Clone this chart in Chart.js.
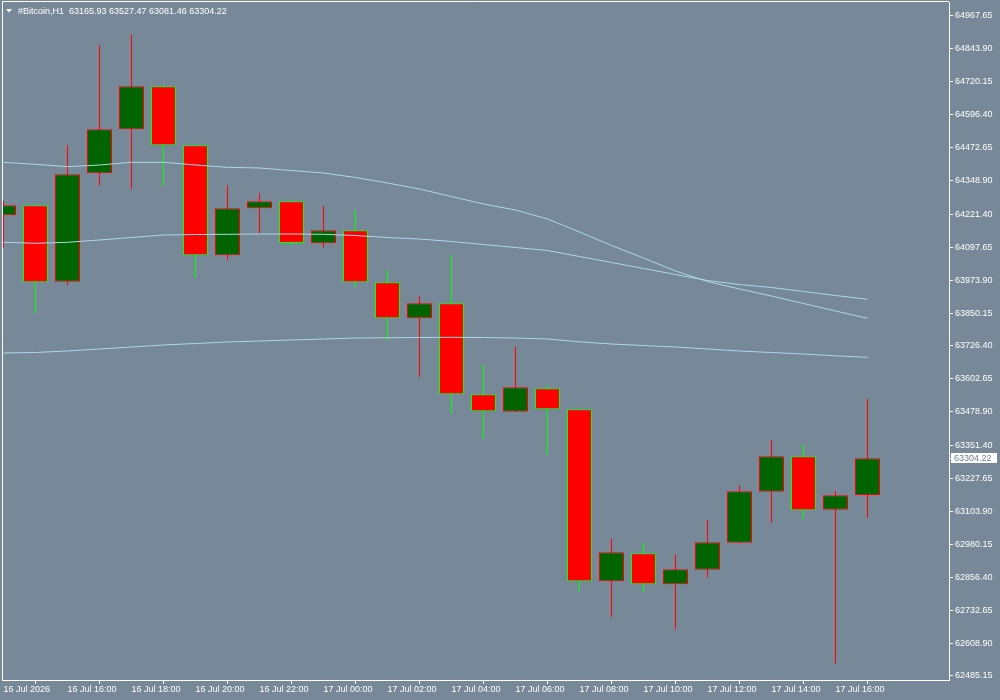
<!DOCTYPE html>
<html>
<head>
<meta charset="utf-8">
<title>#Bitcoin,H1</title>
<script src="https://cdn.jsdelivr.net/npm/chart.js@4.4.1/dist/chart.umd.min.js"></script>
<style>
  html, body { margin: 0; padding: 0; background: #778899; }
  canvas { display: block; }
</style>
</head>
<body>
<canvas id="chart" width="1000" height="700"></canvas>
<script>
const symbol = "#Bitcoin,H1";

// hourly candles, 16 Jul 14:00 .. 17 Jul 17:00
const opens = [64218.0, 64255.6, 63968.0, 64376.0, 64541.5, 64703.2, 64481.3, 64067.5, 64244.3, 64270.7, 64112.7, 64161.6, 63966.0, 63830.6,
  63887.0, 63544.7, 63479.3, 63567.3, 63488.3, 62841.3, 62946.6, 62830.0, 62885.0, 62986.5, 63178.4, 63311.5, 63110.6, 63165.93];
const highs = [64271.8, 64258.0, 64482.4, 64858.6, 64896.2, 64711.9, 64483.0, 64332.0, 64301.9, 64275.6, 64253.0, 64237.9, 64012.3, 63914.5,
  64067.5, 63657.5, 63722.6, 63578.6, 63490.0, 63000.4, 62985.4, 62940.3, 63071.9, 63202.4, 63372.8, 63357.8, 63181.0, 63527.47];
const lows = [64096.1, 63849.4, 63955.8, 64329.3, 64318.1, 64329.3, 63984.0, 64051.0, 64148.8, 64105.2, 64096.1, 63947.2, 63746.3, 63610.9,
  63472.5, 63377.7, 63478.0, 63316.4, 62803.0, 62708.2, 62800.0, 62663.0, 62854.9, 62985.0, 63061.8, 63074.5, 62531.4, 63081.46];
const closes = [64255.6, 63966.0, 64372.2, 64541.5, 64703.2, 64481.3, 64067.5, 64244.3, 64270.7, 64113.8, 64161.6, 63966.0, 63830.6, 63887.0,
  63544.7, 63480.8, 63571.0, 63488.3, 62841.3, 62950.4, 62830.0, 62886.5, 62988.0, 63179.9, 63311.5, 63108.4, 63164.8, 63304.22];

// moving averages
const maFast = [64417.4, 64409.8, 64400.8, 64407.2, 64417.4, 64417.4, 64407.2, 64398.5, 64395.9, 64386.5, 64377.1, 64360.2, 64339.5, 64316.9,
  64288.7, 64260.5, 64237.9, 64204.1, 64155.2, 64104.4, 64057.4, 64008.5, 63969.0, 63940.8, 63914.5, 63886.3, 63858.0, 63830.6];
const maMid = [64116.4, 64112.7, 64116.4, 64125.1, 64134.5, 64143.9, 64145.8, 64146.5, 64147.7, 64147.7, 64146.5, 64142.0, 64134.5, 64128.9,
  64119.5, 64108.2, 64096.9, 64085.6, 64063.0, 64040.5, 64017.9, 63995.3, 63972.8, 63957.7, 63946.4, 63931.4, 63916.3, 63902.1];
const maSlow = [63700.1, 63701.9, 63707.6, 63715.1, 63722.6, 63730.2, 63735.8, 63741.4, 63745.2, 63749.0, 63752.7, 63756.5, 63757.6, 63758.4,
  63759.1, 63758.4, 63756.5, 63752.7, 63742.2, 63733.9, 63728.3, 63722.6, 63715.1, 63707.6, 63701.9, 63696.3, 63689.5, 63683.9];

const xTickIdx = [0, 2, 4, 6, 8, 10, 12, 14, 16, 18, 20, 22, 24, 26];
const xTickLabels = ["16 Jul 2026", "16 Jul 16:00", "16 Jul 18:00", "16 Jul 20:00", "16 Jul 22:00", "17 Jul 00:00", "17 Jul 02:00",
  "17 Jul 04:00", "17 Jul 06:00", "17 Jul 08:00", "17 Jul 10:00", "17 Jul 12:00", "17 Jul 14:00", "17 Jul 16:00"];
const yTicks = [64967.65, 64843.90, 64720.15, 64596.40, 64472.65, 64348.90, 64221.40, 64097.65, 63973.90, 63850.15, 63726.40,
  63602.65, 63478.90, 63351.40, 63227.65, 63103.90, 62980.15, 62856.40, 62732.65, 62608.90, 62485.15];

const FONT = { family: "'Liberation Sans', Arial, sans-serif", size: 9 };
const BG = "#778899";
const BULL = "#006400";
const BEAR = "#ff0000";
const BULL_LINE = "#ff0000";
const BEAR_LINE = "#00ff00";
const MA_COLOR = "#add8e6";

const idx = opens.map((_, i) => i);
const isBull = idx.map(i => closes[i] >= opens[i]);

function maDataset(values) {
  return {
    type: "line",
    data: values.map((v, i) => ({ x: i, y: v })),
    borderColor: MA_COLOR,
    borderWidth: 1,
    pointRadius: 0,
    tension: 0,
    fill: false,
    order: 0,
  };
}

// frame, title and current price tag
const overlay = {
  id: "overlay",
  afterDraw(chart) {
    const ctx = chart.ctx;
    const { left, top, right, bottom } = chart.chartArea;
    ctx.save();
    ctx.strokeStyle = "#ffffff";
    ctx.lineWidth = 1;
    ctx.beginPath();
    ctx.moveTo(left + 0.5, bottom);
    ctx.lineTo(left + 0.5, top - 0.5);
    ctx.lineTo(right, top - 0.5);
    ctx.stroke();

    // title
    const n = closes.length - 1;
    ctx.fillStyle = "#ffffff";
    ctx.beginPath();
    ctx.moveTo(6, 9);
    ctx.lineTo(12, 9);
    ctx.lineTo(9, 12.5);
    ctx.closePath();
    ctx.fill();
    ctx.font = `${FONT.size}px ${FONT.family}`;
    ctx.textBaseline = "alphabetic";
    ctx.textAlign = "left";
    const head = `${symbol}  ${opens[n].toFixed(2)} ${highs[n].toFixed(2)} ${lows[n].toFixed(2)} ${closes[n].toFixed(2)}`;
    ctx.fillText(head, 18, 13.5);

    // last price label
    const y = Math.round(chart.scales.y.getPixelForValue(closes[n]));
    ctx.fillStyle = "#ffffff";
    ctx.fillRect(right + 2, y - 5, 46, 10);
    ctx.fillRect(right, y, 2, 1);
    ctx.fillStyle = "#6f7f8f";
    ctx.textBaseline = "middle";
    ctx.fillText(closes[n].toFixed(2), right + 5, y + 0.5);
    ctx.restore();
  },
};

new Chart(document.getElementById("chart"), {
  type: "bar",
  data: {
    datasets: [
      maDataset(maFast),
      maDataset(maMid),
      maDataset(maSlow),
      {
        // bodies
        data: idx.map(i => ({ x: i, y: [opens[i], closes[i]] })),
        backgroundColor: idx.map(i => (isBull[i] ? BULL : BEAR)),
        borderColor: idx.map(i => (isBull[i] ? BULL_LINE : BEAR_LINE)),
        borderWidth: 1,
        borderSkipped: false,
        barThickness: 25,
        inflateAmount: 0,
        grouped: false,
        order: 1,
      },
      {
        // wicks
        data: idx.map(i => ({ x: i, y: [lows[i], highs[i]] })),
        backgroundColor: idx.map(i => (isBull[i] ? BULL_LINE : BEAR_LINE)),
        borderWidth: 0,
        barThickness: 1,
        inflateAmount: 0,
        grouped: false,
        order: 2,
      },
    ],
  },
  options: {
    responsive: false,
    animation: false,
    events: [],
    layout: { padding: { left: 2, top: 2, right: 0, bottom: 0 } },
    plugins: {
      legend: { display: false },
      tooltip: { enabled: false },
    },
    scales: {
      x: {
        type: "linear",
        offset: false,
        min: -0.046875,
        max: -0.046875 + 947 / 32,
        afterBuildTicks: scale => {
          scale.ticks = xTickIdx.map(v => ({ value: v }));
        },
        afterFit: scale => {
          scale.height = 20;
          scale.paddingLeft = 0;
          scale.paddingRight = 0;
        },
        ticks: {
          autoSkip: false,
          maxRotation: 0,
          align: "start",
          padding: 0,
          color: "#ffffff",
          font: FONT,
          callback: value => xTickLabels[xTickIdx.indexOf(value)],
        },
        grid: { drawOnChartArea: false, color: "#ffffff", tickLength: 4 },
        border: { display: true, color: "#ffffff", width: 1 },
      },
      y: {
        type: "linear",
        position: "right",
        min: 62470.1,
        max: 65020.3,
        afterBuildTicks: scale => {
          scale.ticks = yTicks.map(v => ({ value: v }));
        },
        afterFit: scale => {
          scale.width = 51;
          scale.paddingTop = 0;
          scale.paddingBottom = 0;
        },
        ticks: {
          autoSkip: false,
          padding: 2,
          color: "#ffffff",
          font: FONT,
          callback: value => Number(value).toFixed(2),
        },
        grid: { drawOnChartArea: false, color: "#ffffff", tickLength: 4 },
        border: { display: true, color: "#ffffff", width: 1 },
      },
    },
  },
  plugins: [overlay],
});
</script>
</body>
</html>
